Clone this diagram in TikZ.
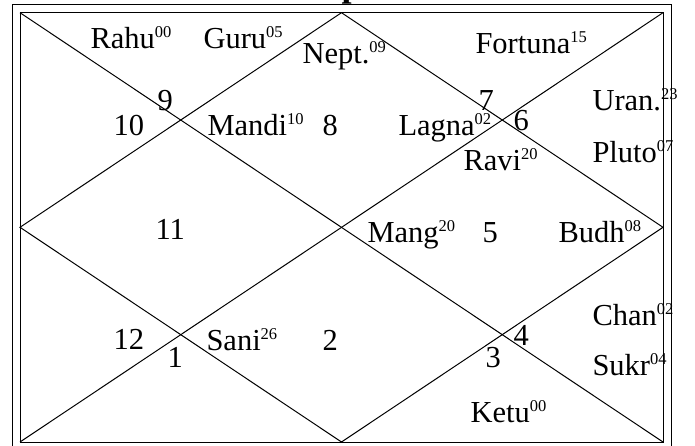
\documentclass[tikz,border=0pt]{standalone}
\usepackage{fontspec}
\setmainfont{Liberation Serif}
\newcommand\plsup[2]{#1\raisebox{11pt}{\fontsize{16.5}{16.5}\selectfont #2}}
\begin{document}
\begin{tikzpicture}[x=1pt,y=-1pt,line width=1pt,
  lbl/.style={anchor=base west,inner sep=0pt,font=\fontsize{30.5}{30.5}\selectfont},
  ttl/.style={anchor=base west,inner sep=0pt,font=\fontsize{36}{36}\selectfont\bfseries}]
\useasboundingbox (0,0) rectangle (695,445);
\clip (0,0) rectangle (695,445);
% frames
\coordinate (otl) at (12.7,4.3);
\coordinate (obr) at (671,470);
\draw (otl) rectangle (obr);
\coordinate (tl) at (20,12.7);
\coordinate (tr) at (663,12.7);
\coordinate (bl) at (20,442);
\coordinate (br) at (663,442);
\coordinate (tm) at (341.5,12.7);
\coordinate (rm) at (663,227.3);
\coordinate (bm) at (341.5,442);
\coordinate (lm) at (20,227.3);
\draw (tl) rectangle (br);
\draw (tl) -- (br);
\draw (tr) -- (bl);
\draw (tm) -- (rm) -- (bm) -- (lm) -- cycle;
% title fragment
\node[ttl] (title) at (341,-3.5) {p};
% house numbers
\node[lbl] (h9) at (157,110) {9};
\node[lbl] (h10) at (113,135) {10};
\node[lbl] (h8) at (322,135) {8};
\node[lbl] (h7) at (478,110) {7};
\node[lbl] (h6) at (513,130) {6};
\node[lbl] (h11) at (155,239) {11};
\node[lbl] (h5) at (482,242) {5};
\node[lbl] (h12) at (113,349) {12};
\node[lbl] (h1) at (167,367) {1};
\node[lbl] (h2) at (322,350) {2};
\node[lbl] (h4) at (513,345) {4};
\node[lbl] (h3) at (485,367) {3};
% planets
\node[lbl] (rahu) at (90,48) {\plsup{Rahu}{00}};
\node[lbl] (guru) at (203,48) {\plsup{Guru}{05}};
\node[lbl] (nept) at (302,63) {\plsup{Nept.}{09}};
\node[lbl] (fort) at (475,53) {\plsup{Fortuna}{15}};
\node[lbl] (mandi) at (207,135) {\plsup{Mandi}{10}};
\node[lbl] (lagna) at (398,135) {\plsup{Lagna}{02}};
\node[lbl] (ravi) at (463,170) {\plsup{Ravi}{20}};
\node[lbl] (uran) at (592,110) {\plsup{Uran.}{23}};
\node[lbl] (pluto) at (592,162) {\plsup{Pluto}{07}};
\node[lbl] (mang) at (367,242) {\plsup{Mang}{20}};
\node[lbl] (budh) at (558,242) {\plsup{Budh}{08}};
\node[lbl] (sani) at (206,350) {\plsup{Sani}{26}};
\node[lbl] (chan) at (592,325) {\plsup{Chan}{02}};
\node[lbl] (sukr) at (592,375) {\plsup{Sukr}{04}};
\node[lbl] (ketu) at (470,422) {\plsup{Ketu}{00}};
\end{tikzpicture}
\end{document}
